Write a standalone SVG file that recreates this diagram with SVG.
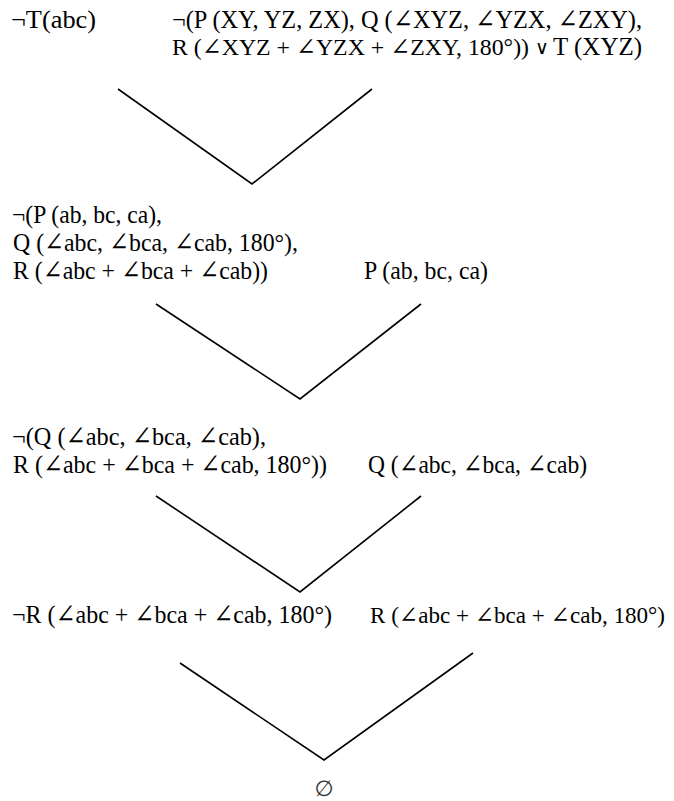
<svg xmlns="http://www.w3.org/2000/svg" width="674" height="801" viewBox="0 0 674 801">
  <style>
    .t { font-family: "Liberation Serif", "DejaVu Serif", serif; font-size: 26px; fill: #000; }
    .t24 { font-size: 24px; }
    .t23 { font-size: 23px; }
    .or { font-family: "DejaVu Sans", sans-serif; font-size: 19px; fill: #000; }
    .empty { font-family: "DejaVu Sans", sans-serif; font-size: 22px; fill: #333; }
    .edge { fill: none; stroke: #000; stroke-width: 1.6; stroke-linejoin: miter; }
  </style>
  <rect width="674" height="801" fill="#fff"/>

  <!-- starting clauses -->
  <g id="clause-not-t">
    <text class="t" x="11" y="28" textLength="85" lengthAdjust="spacingAndGlyphs">¬T(abc)</text>
  </g>
  <g id="clause-axiom">
    <text class="t" x="172" y="28" textLength="470" lengthAdjust="spacingAndGlyphs">¬(P (XY, YZ, ZX), Q (∠XYZ, ∠YZX, ∠ZXY),</text>
    <text class="t t24" x="172" y="55" textLength="357" lengthAdjust="spacingAndGlyphs">R (∠XYZ + ∠YZX + ∠ZXY, 180°))</text>
    <text class="or" x="535" y="54">∨</text>
    <text class="t" x="553" y="55" textLength="89" lengthAdjust="spacingAndGlyphs">T (XYZ)</text>
  </g>

  <!-- first resolution step -->
  <g id="resolvent-1">
    <text class="t" x="12" y="223" textLength="150" lengthAdjust="spacingAndGlyphs">¬(P (ab, bc, ca),</text>
    <text class="t" x="13" y="251" textLength="285" lengthAdjust="spacingAndGlyphs">Q (∠abc, ∠bca, ∠cab, 180°),</text>
    <text class="t" x="13" y="279" textLength="255" lengthAdjust="spacingAndGlyphs">R (∠abc + ∠bca + ∠cab))</text>
  </g>
  <g id="fact-p">
    <text class="t" x="364" y="279" textLength="124" lengthAdjust="spacingAndGlyphs">P (ab, bc, ca)</text>
  </g>

  <!-- second resolution step -->
  <g id="resolvent-2">
    <text class="t" x="12" y="445" textLength="254" lengthAdjust="spacingAndGlyphs">¬(Q (∠abc, ∠bca, ∠cab),</text>
    <text class="t" x="13" y="473" textLength="314" lengthAdjust="spacingAndGlyphs">R (∠abc + ∠bca + ∠cab, 180°))</text>
  </g>
  <g id="fact-q">
    <text class="t" x="368" y="473" textLength="219" lengthAdjust="spacingAndGlyphs">Q (∠abc, ∠bca, ∠cab)</text>
  </g>

  <!-- third resolution step -->
  <g id="resolvent-3">
    <text class="t" x="12" y="623" textLength="320" lengthAdjust="spacingAndGlyphs">¬R (∠abc + ∠bca + ∠cab, 180°)</text>
  </g>
  <g id="fact-r">
    <text class="t t23" x="370" y="623" textLength="295" lengthAdjust="spacingAndGlyphs">R (∠abc + ∠bca + ∠cab, 180°)</text>
  </g>

  <!-- refutation -->
  <g id="empty-clause">
    <text class="empty" x="324" y="796" text-anchor="middle">∅</text>
  </g>

  <g id="connectors">
    <polyline class="edge" points="118,89 252,184 372,89"/>
    <polyline class="edge" points="156,304 300,399 421,304"/>
    <polyline class="edge" points="156,496 300,592 421,496"/>
    <polyline class="edge" points="180,663 324,760 473,653"/>
  </g>
</svg>
